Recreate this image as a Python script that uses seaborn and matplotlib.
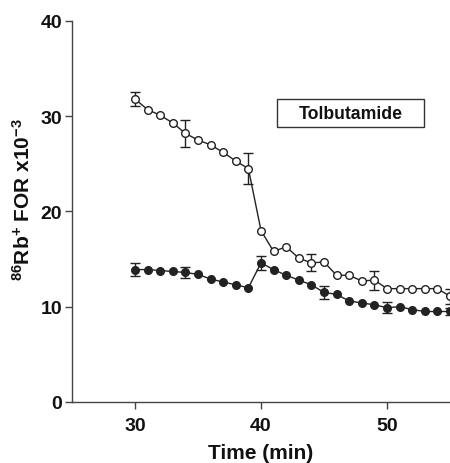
import matplotlib
matplotlib.use("Agg")
import matplotlib.pyplot as plt
import matplotlib.patches as mpatches
import seaborn as sns
import pandas as pd

# time points (min)
time = list(range(30, 56))
# open circles (control)
open_vals = [31.8, 30.7, 30.1, 29.3, 28.2, 27.5, 27.0, 26.2, 25.3, 24.5,
             18.0, 15.8, 16.3, 15.1, 14.6, 14.7, 13.3, 13.3, 12.7, 12.8,
             11.9, 11.9, 11.9, 11.9, 11.9, 11.1]
# filled circles (tolbutamide)
filled_vals = [13.9, 13.9, 13.8, 13.7, 13.6, 13.4, 12.9, 12.6, 12.3, 12.0,
               14.6, 13.9, 13.3, 12.8, 12.3, 11.5, 11.3, 10.6, 10.4, 10.2,
               9.9, 10.0, 9.7, 9.5, 9.5, 9.5]
# error bars (time, value, sem)
open_err_t = [30, 34, 39, 44, 49, 55]
open_err_v = [31.8, 28.2, 24.5, 14.6, 12.8, 11.1]
open_err_e = [0.7, 1.4, 1.6, 0.9, 1.0, 0.8]
filled_err_t = [30, 34, 40, 45, 50, 55]
filled_err_v = [13.9, 13.6, 14.6, 11.5, 9.9, 9.5]
filled_err_e = [0.7, 0.6, 0.7, 0.7, 0.6, 0.4]

sns.set_style("ticks")
plt.rcParams['font.family'] = ['Liberation Sans', 'DejaVu Sans']
plt.rcParams['font.weight'] = 'bold'
plt.rcParams['mathtext.fontset'] = 'custom'
plt.rcParams['mathtext.rm'] = 'Liberation Sans:bold'
plt.rcParams['mathtext.bf'] = 'Liberation Sans:bold'
plt.rcParams['mathtext.default'] = 'bf'

df = pd.DataFrame({
    'time': time * 2,
    'value': open_vals + filled_vals,
    'group': ['open'] * len(time) + ['filled'] * len(time),
})

fig = plt.figure(figsize=(4.5, 4.64), dpi=100)
ax = fig.add_axes([0.16, 0.1315, 0.84, 0.8211])

ax.errorbar(open_err_t, open_err_v, yerr=open_err_e, fmt='none',
            ecolor='#222222', elinewidth=1, capsize=3.5, capthick=1, zorder=1)
ax.errorbar(filled_err_t, filled_err_v, yerr=filled_err_e, fmt='none',
            ecolor='#222222', elinewidth=1, capsize=3.5, capthick=1, zorder=1)

sns.lineplot(data=df[df.group == 'open'], x='time', y='value', ax=ax,
             color='#222222', linewidth=1, marker='o', markersize=5.5,
             markerfacecolor='white', markeredgecolor='#222222',
             markeredgewidth=1, zorder=3)
sns.lineplot(data=df[df.group == 'filled'], x='time', y='value', ax=ax,
             color='#222222', linewidth=1, marker='o', markersize=5.5,
             markerfacecolor='#222222', markeredgecolor='#222222',
             markeredgewidth=1, zorder=3)

ax.set_xlim(25, 55)
ax.set_ylim(0, 40)
ax.set_xticks([30, 40, 50])
ax.set_yticks([0, 10, 20, 30, 40])
ax.tick_params(labelsize=14, length=5, width=1, color='#444444', pad=2,
               labelcolor='#111111')
ax.tick_params(axis='x', pad=6)
for lab in ax.get_xticklabels() + ax.get_yticklabels():
    lab.set_fontweight('bold')
for s in ['top', 'right']:
    ax.spines[s].set_visible(False)
for s in ['left', 'bottom']:
    ax.spines[s].set_linewidth(1)
    ax.spines[s].set_color('#444444')

ax.set_xlabel('Time (min)', fontsize=15, fontweight='bold', labelpad=6,
              color='#111111')
ax.set_ylabel('$^{86}$Rb$^{+}$ FOR x10$^{-3}$', fontsize=15,
              fontweight='bold', color='#111111')
ax.yaxis.set_label_coords(-0.10, 0.533)

# label box
ax.add_patch(mpatches.Rectangle((0.542, 0.722), 0.389, 0.073,
                                transform=ax.transAxes, facecolor='white',
                                edgecolor='#333333', linewidth=1, zorder=4))
ax.text(0.737, 0.758, 'Tolbutamide', transform=ax.transAxes, ha='center',
        va='center', fontsize=12.7, fontweight='bold', color='#111111',
        zorder=5)

fig.savefig('out.png', dpi=100)
